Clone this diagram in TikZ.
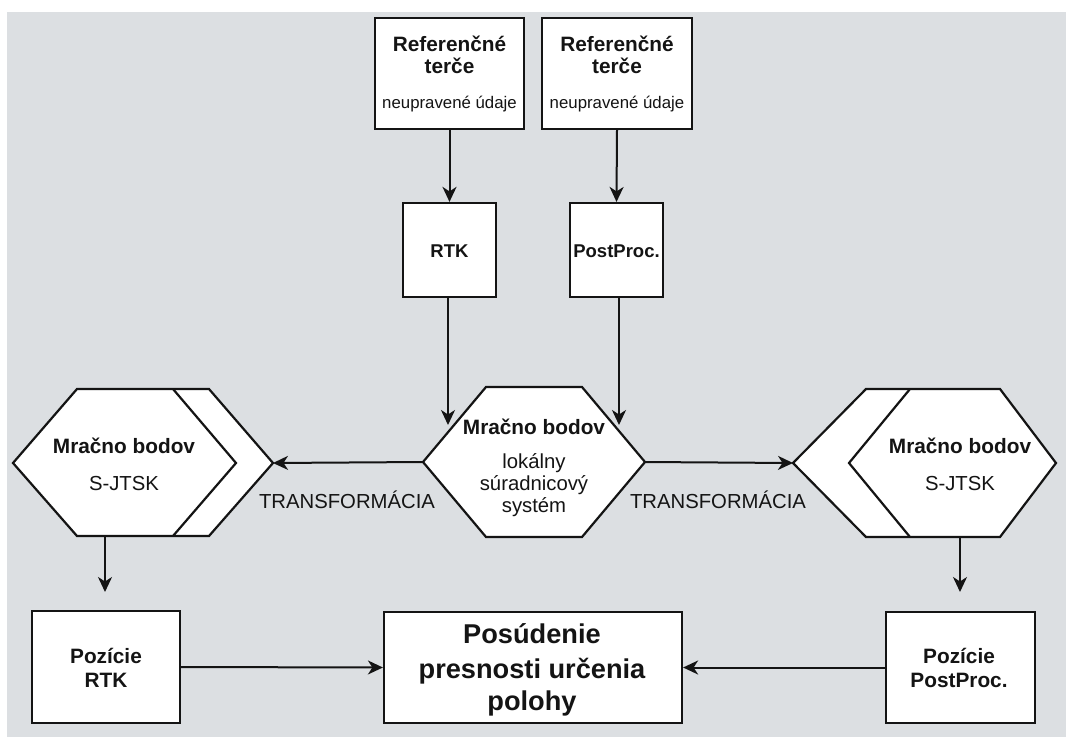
\documentclass[tikz,border=0pt]{standalone}
\usepackage{fontspec}
\setmainfont{Liberation Sans}
\usetikzlibrary{arrows.meta}
\definecolor{bggray}{RGB}{220,223,226}
\definecolor{ink}{RGB}{20,20,20}
\tikzset{
  boxstyle/.style={draw=ink, line width=2.2pt, fill=white, inner sep=0pt, rectangle},
  hexstyle/.style={draw=ink, line width=2.2pt, fill=white, line join=miter},
  arr/.style={draw=ink, line width=2pt, -{Stealth[length=15pt,width=14pt,inset=4.5pt]}},
  lblB/.style={anchor=base, inner sep=0pt, text=ink, font=\bfseries\fontsize{20.8}{24}\selectfont},
  lblR/.style={anchor=base, inner sep=0pt, text=ink, font=\fontsize{20.3}{24}\selectfont},
  lblS/.style={anchor=base, inner sep=0pt, text=ink, font=\fontsize{16.8}{19}\selectfont},
  lblRtk/.style={anchor=base, inner sep=0pt, text=ink, font=\bfseries\fontsize{18.5}{22}\selectfont},
  lblBig/.style={anchor=base, inner sep=0pt, text=ink, font=\bfseries\fontsize{27.2}{32}\selectfont},
}
\begin{document}
\begin{tikzpicture}[x=1pt, y=-1pt]
\useasboundingbox (0,0) rectangle (1066,737);
\fill[bggray] (7,12) rectangle (1066,737);

% top boxes
\node[boxstyle, minimum width=149pt, minimum height=111pt] (ref1) at (449.5,73.5) {};
\node[boxstyle, minimum width=150pt, minimum height=111pt] (ref2) at (617,73.5) {};
\node[lblB] (ref1a) at (449.5,51) {Referenčné};
\node[lblB] (ref1b) at (449.5,73) {terče};
\node[lblS] (ref1c) at (449.5,108) {neupravené údaje};
\node[lblB] (ref2a) at (617,51) {Referenčné};
\node[lblB] (ref2b) at (617,73) {terče};
\node[lblS] (ref2c) at (617,108) {neupravené údaje};

% RTK / PostProc
\node[boxstyle, minimum width=93pt, minimum height=94pt] (rtk) at (449.5,250) {};
\node[boxstyle, minimum width=93pt, minimum height=94pt] (pp) at (616.5,250) {};
\node[lblRtk] (rtkt) at (449.5,257) {RTK};
\node[lblRtk] (ppt) at (616.5,257) {PostProc.};

% central hexagon
\coordinate (cL) at (423,462);
\coordinate (cR) at (645,462);
\filldraw[hexstyle] (cL) -- (486,387) -- (582,387) -- (cR) -- (582,537) -- (486,537) -- cycle;
\node[lblB] (c1) at (534,434) {Mračno bodov};
\node[lblR] (c2) at (534,468) {lokálny};
\node[lblR] (c3) at (534,490) {súradnicový};
\node[lblR] (c4) at (534,512) {systém};

% left hexagon
\coordinate (lR) at (273,463);
\coordinate (lB) at (105,536);
\filldraw[hexstyle] (13,463) -- (77,389) -- (209,389) -- (lR) -- (209,536) -- (77,536) -- cycle;
\draw[hexstyle, fill=none] (173,389) -- (236,463) -- (173,536);
\node[lblB] (l1) at (124,453) {Mračno bodov};
\node[lblR] (l2) at (124,490) {S-JTSK};

% right hexagon
\coordinate (rL) at (793,463);
\coordinate (rB) at (960,537);
\filldraw[hexstyle] (rL) -- (866,389) -- (1000,389) -- (1056,463) -- (1000,537) -- (866,537) -- cycle;
\draw[hexstyle, fill=none] (910,389) -- (849,463) -- (910,537);
\node[lblB] (r1) at (960,453) {Mračno bodov};
\node[lblR] (r2) at (960,490) {S-JTSK};

% transformation labels
\node[lblR] (tl) at (347,508) {TRANSFORMÁCIA};
\node[lblR] (tr) at (718,508) {TRANSFORMÁCIA};

% bottom boxes
\node[boxstyle, minimum width=148pt, minimum height=112pt] (prtk) at (106,667) {};
\node[boxstyle, minimum width=298pt, minimum height=111pt] (pos) at (533,667.5) {};
\node[boxstyle, minimum width=149pt, minimum height=111pt] (ppp) at (960.5,667.5) {};
\node[lblB] (prtk1) at (106,663) {Pozície};
\node[lblB] (prtk2) at (106,687) {RTK};
\node[lblB] (ppp1) at (959,663) {Pozície};
\node[lblB] (ppp2) at (959,687) {PostProc.};
\node[lblBig] (pos1) at (532,643) {Posúdenie};
\node[lblBig] (pos2) at (532,678) {presnosti určenia};
\node[lblBig] (pos3) at (532,710) {polohy};

% arrow end coordinates
\coordinate (e1) at (448,425);
\coordinate (e2) at (619,425);
\coordinate (e3) at (105,592);
\coordinate (e4) at (960,592);

% connectors
\draw[arr] (ref1.south) -- (rtk.north);
\draw[arr] (ref2.south) -- (pp.north);
\draw[arr] (rtk.south -| e1) -- (e1);
\draw[arr] (pp.south -| e2) -- (e2);
\draw[arr] (cL) -- (lR);
\draw[arr] (cR) -- (rL);
\draw[arr] (lB) -- (e3);
\draw[arr] (rB) -- (e4);
\draw[arr] (prtk.east) -- (pos.west);
\draw[arr] (ppp.west) -- (pos.east);
\end{tikzpicture}
\end{document}
